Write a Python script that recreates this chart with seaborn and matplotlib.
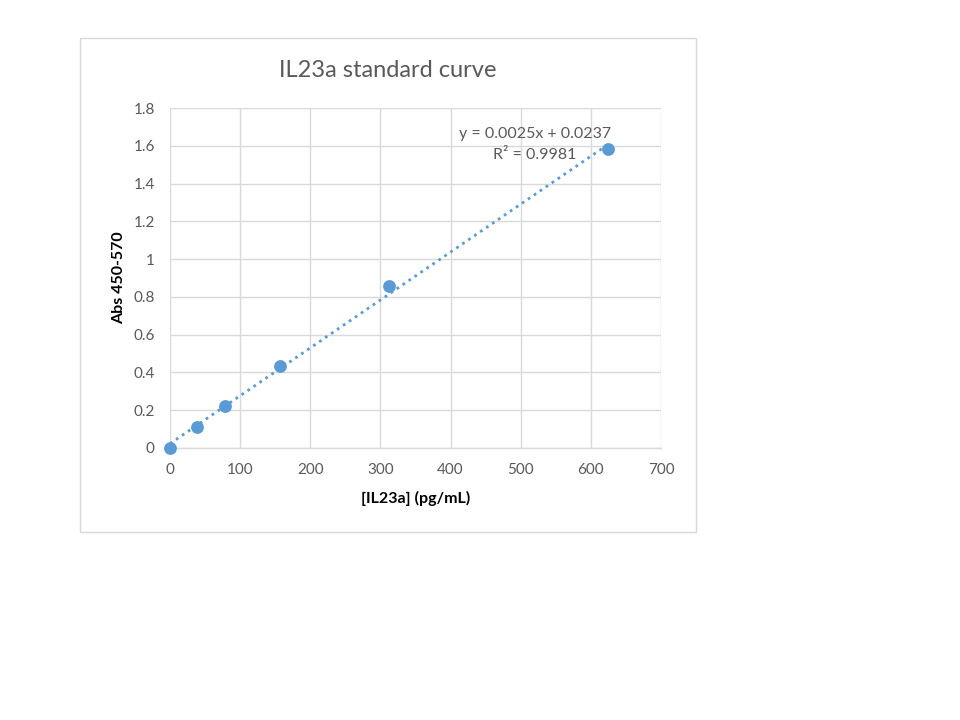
import numpy as np
import pandas as pd
import matplotlib
matplotlib.use("Agg")
import matplotlib.pyplot as plt
import seaborn as sns
from matplotlib.patches import Rectangle

# Data
conc = [0, 39.06, 78.125, 156.25, 312.5, 625]
absorb = [0.0, 0.109, 0.222, 0.436, 0.858, 1.583]
x_ticks = [0, 100, 200, 300, 400, 500, 600, 700]
y_ticks = [0, 0.2, 0.4, 0.6, 0.8, 1.0, 1.2, 1.4, 1.6, 1.8]
y_tick_labels = ["0", "0.2", "0.4", "0.6", "0.8", "1", "1.2", "1.4", "1.6", "1.8"]
title = "IL23a standard curve"
xlabel = "[IL23a] (pg/mL)"
ylabel = "Abs 450-570"
eq_line1 = "y = 0.0025x + 0.0237"
eq_line2 = "R² = 0.9981"

df = pd.DataFrame({"conc": conc, "abs": absorb})

sns.set_theme(style="white")
plt.rcParams["font.family"] = ["Lato", "DejaVu Sans"]

fig = plt.figure(figsize=(9.6, 7.2), dpi=100)
fig.patch.set_facecolor("white")

# chart border
fig.patches.append(Rectangle((0.0833, 0.2611), 0.725 - 0.0833, 0.9472 - 0.2611,
                             transform=fig.transFigure, fill=False,
                             edgecolor="#d9d9d9", linewidth=1.0))

ax = fig.add_axes([0.1771, 0.3778, 0.6885 - 0.1771, 0.85 - 0.3778])
blue = "#5b9bd5"

sns.regplot(data=df, x="conc", y="abs", ax=ax, ci=None, scatter=False,
            line_kws=dict(color=blue, linestyle=(0, (1, 1.6)), linewidth=2))
sns.scatterplot(data=df, x="conc", y="abs", ax=ax, color=blue, s=85,
                edgecolor=blue, linewidth=0, zorder=5, clip_on=False)

ax.set_xlim(0, 700)
ax.set_ylim(0, 1.8)
ax.set_xticks(x_ticks)
ax.set_yticks(y_ticks)
ax.set_yticklabels(y_tick_labels)
ax.grid(True, color="#d9d9d9", linewidth=1)
ax.set_axisbelow(True)
for s in ["top", "right", "left"]:
    ax.spines[s].set_visible(False)
ax.spines["bottom"].set_color("#d9d9d9")
ax.spines["bottom"].set_linewidth(1)
ax.tick_params(axis="x", length=0, labelsize=11, labelcolor="#595959", pad=11)
ax.tick_params(axis="y", length=0, labelsize=11, labelcolor="#595959", pad=11)

ax.set_xlabel(xlabel, fontsize=11.5, fontweight="bold", color="black", labelpad=10)
ax.set_ylabel(ylabel, fontsize=11.5, fontweight="bold", color="black", labelpad=5)

ax.text(520, 1.662, eq_line1, ha="center", va="center", fontsize=11.5, color="#595959")
ax.text(520, 1.551, eq_line2, ha="center", va="center", fontsize=11.5, color="#595959")

fig.text(0.404, 0.9015, title, ha="center", va="center", fontsize=17, color="#595959")

fig.savefig("out.png", dpi=100, facecolor="white")
